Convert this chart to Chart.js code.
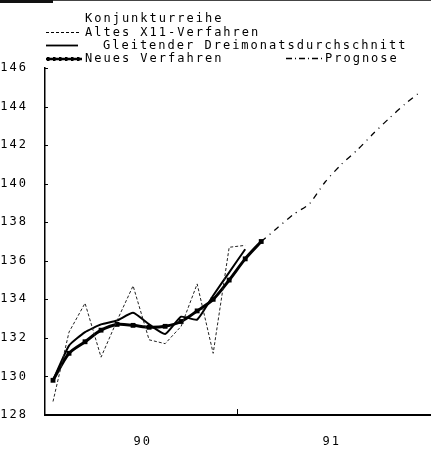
<!DOCTYPE html>
<html>
<head>
<meta charset="utf-8">
<script src="https://cdn.jsdelivr.net/npm/chart.js@4/dist/chart.umd.min.js"></script>
<style>
  html, body { margin: 0; padding: 0; background: #fff; }
  #box { width: 431px; height: 450px; position: relative; }
  #rand { position: absolute; left: 0; top: 0; width: 431px; height: 1px; background: #444; }
  #rand2 { position: absolute; left: 0; top: 0; width: 53px; height: 3px; background: #111; }
</style>
</head>
<body>
<div id="box"><canvas id="myChart"></canvas><div id="rand"></div><div id="rand2"></div></div>
<script>
// Monate ab Jan 1990 (0 = Jan 90)
const monate = [0,1,2,3,4,5,6,7,8,9,10,11,12,13,14,15,16,17,18,19,20,21,22,23];
const jahre = ['90', '91'];
const jahrMitte = [5.6, 17.4];
const jahresGrenze = 11.5;
const yTicks = [128,130,132,134,136,138,140,142,144,146];

const altesX11 = [128.7,132.3,133.8,131.0,132.9,134.7,131.9,131.7,132.6,134.8,131.2,136.7,136.8];
const gleitend = [129.8,131.6,132.3,132.7,132.9,133.3,132.7,132.2,133.1,132.95,134.2,135.4,136.6];
const neues = [129.8,131.2,131.8,132.4,132.7,132.65,132.55,132.6,132.85,133.4,134.0,135.0,136.1,137.0];
const prognose = [null,null,null,null,null,null,null,null,null,null,null,null,null,
                  137.0,137.7,138.4,138.95,140.1,141.0,141.75,142.6,143.4,144.15,144.8];

const titel = 'Konjunkturreihe';
const namen = ['Altes X11-Verfahren','Gleitender Dreimonatsdurchschnitt','Neues Verfahren','Prognose'];

function punkte(arr) {
  return arr.map((v, i) => ({x: monate[i], y: v}));
}

const FONT = '"DejaVu Sans Mono", monospace';

const spacing = {
  id: 'spacing',
  beforeDraw(chart) { chart.ctx.letterSpacing = '2px'; }
};

const extras = {
  id: 'extras',
  afterDraw(chart) {
    const ctx = chart.ctx;
    const ys = chart.scales.y, xs = chart.scales.x;
    ctx.save();
    ctx.strokeStyle = '#000';
    ctx.lineWidth = 1;
    // kleine Striche innen an der y-Achse
    ys.ticks.forEach(t => {
      const p = Math.round(ys.getPixelForValue(t.value)) + 0.5;
      ctx.beginPath(); ctx.moveTo(ys.right, p); ctx.lineTo(ys.right + 3, p); ctx.stroke();
    });
    // Jahresgrenze
    const gx = Math.round(xs.getPixelForValue(jahresGrenze)) + 0.5;
    ctx.beginPath(); ctx.moveTo(gx, xs.top); ctx.lineTo(gx, xs.top - 6); ctx.stroke();

    // Legende
    ctx.letterSpacing = '2px';
    ctx.font = '12px ' + FONT;
    ctx.fillStyle = '#000';
    ctx.textBaseline = 'middle';
    ctx.textAlign = 'left';
    ctx.fillText(titel, 85, 19);
    ctx.fillText(namen[0], 85, 33);
    ctx.fillText(namen[1], 103, 46);
    ctx.fillText(namen[2], 85, 59);
    ctx.fillText(namen[3], 325, 59);

    const linie = (x1, x2, y, w, dash) => {
      ctx.lineWidth = w; ctx.setLineDash(dash);
      ctx.beginPath(); ctx.moveTo(x1, y); ctx.lineTo(x2, y); ctx.stroke();
    };
    linie(46, 80, 32.5, 1, [3, 2]);
    linie(46, 78, 45.5, 1.8, []);
    linie(46, 82, 59, 2.6, []);
    ctx.setLineDash([]);
    for (let px = 48; px <= 80; px += 6) {
      ctx.fillRect(px - 1, 57, 2.5, 4);
    }
    linie(286, 322, 58.5, 1.5, [6, 3, 1, 3]);
    ctx.restore();
  }
};

const ctx = document.getElementById('myChart').getContext('2d');
const chart = new Chart(ctx, {
  type: 'line',
  data: {
    datasets: [
      {
        label: namen[0],
        data: punkte(altesX11),
        borderColor: '#222',
        borderWidth: 1,
        borderDash: [3, 2],
        pointRadius: 0,
        tension: 0
      },
      {
        label: namen[1],
        data: punkte(gleitend),
        borderColor: '#000',
        borderWidth: 2,
        pointRadius: 0,
        tension: 0.15
      },
      {
        label: namen[2],
        data: punkte(neues),
        borderColor: '#000',
        backgroundColor: '#000',
        borderWidth: 3,
        pointRadius: 1.3,
        pointStyle: 'rect',
        tension: 0.3
      },
      {
        label: namen[3],
        data: punkte(prognose),
        borderColor: '#000',
        borderWidth: 1.3,
        borderDash: [6, 5, 1, 5],
        pointRadius: 0,
        tension: 0.2
      }
    ]
  },
  options: {
    responsive: true,
    maintainAspectRatio: false,
    animation: false,
    layout: { autoPadding: false, padding: { top: 68, right: 0, left: 0, bottom: 0 } },
    plugins: {
      legend: { display: false },
      title: { display: false },
      tooltip: { enabled: false }
    },
    scales: {
      x: {
        type: 'linear',
        min: -0.5,
        max: 23.6,
        grid: { display: false },
        border: { display: true, color: '#000', width: 2, dash: [12, 5] },
        afterBuildTicks(scale) {
          scale.ticks = jahrMitte.map(v => ({value: v}));
        },
        afterFit(scale) {
          scale.height = 35;
          scale.paddingRight = 0;
          scale.paddingLeft = 0;
        },
        ticks: {
          padding: 12,
          color: '#000',
          font: { family: FONT, size: 12 },
          callback: (v) => jahre[jahrMitte.indexOf(v)]
        }
      },
      y: {
        min: 128,
        max: 146,
        grid: { display: false },
        border: { display: true, color: '#000', width: 1.5 },
        afterBuildTicks(scale) {
          scale.ticks = yTicks.map(v => ({value: v}));
        },
        afterFit(scale) { scale.width = 45; },
        ticks: {
          padding: 9,
          color: '#000',
          font: { family: FONT, size: 12 }
        }
      }
    }
  },
  plugins: [spacing, extras]
});
</script>
</body>
</html>
